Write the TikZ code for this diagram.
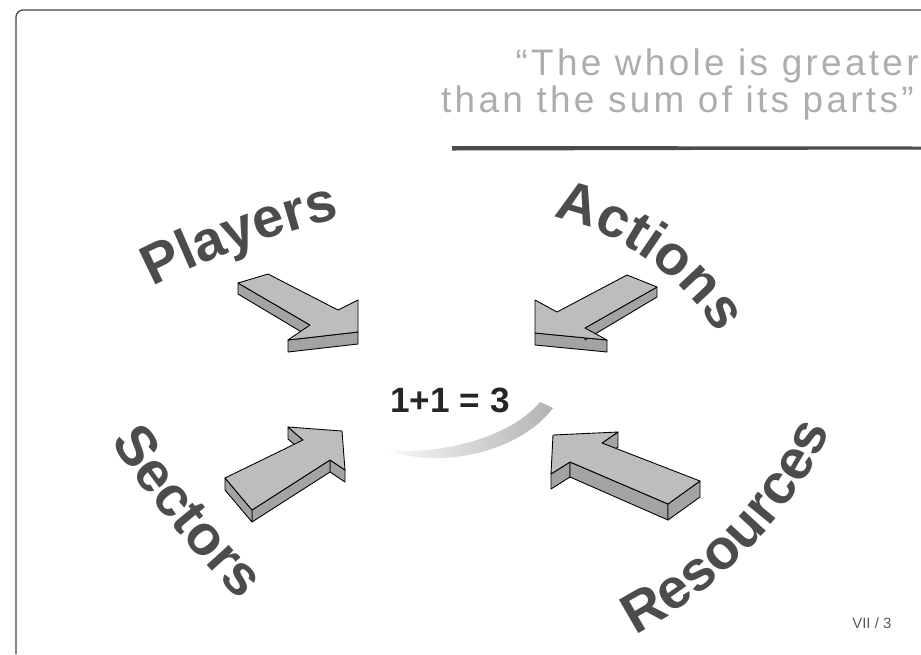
\documentclass[tikz,border=0pt]{standalone}
\usepackage{fontspec}
\setmainfont{Liberation Sans}
\newfontfamily\wordfont{Liberation Sans}
\newfontfamily\quotefont[LetterSpace=9]{Liberation Sans}
\usetikzlibrary{calc,decorations.text,positioning}
\definecolor{wordgray}{gray}{0.3}
\definecolor{quotegray}{gray}{0.68}
\definecolor{arrowtop}{gray}{0.74}
\definecolor{arrowside}{gray}{0.64}

\begin{document}
\begin{tikzpicture}[x=0.02cm, y=-0.02cm,
	top/.style={fill=arrowtop, draw=black, line width=0.5pt, line join=round},
	side/.style={fill=arrowside, draw=black, line width=0.5pt, line join=round},
	word/.style={decorate, decoration={text along path, text align=center,
		text color=wordgray, text={|\wordfont\bfseries\fontsize{32}{32}\selectfont|#1}}},
	quote/.style={anchor=base east, inner sep=0pt, text=quotegray,
		font=\quotefont\fontsize{21}{24}\selectfont}
]
	\useasboundingbox (0,0) rectangle (921,654);

	% Frame
	\draw[black!75, line width=0.7pt, rounded corners=4pt] (921,10) -- (16,10) -- (16,654);

	% Quote and rule
	\node[quote] (quote1) at (919,75) {“The whole is greater};
	\node[quote] (quote2) at (914,112) {than the sum of its parts”};
	\fill[black!70] (452,146) -- (921,146.5) -- (921,149.5) -- (452,150.5) -- cycle;

	% Swoosh under the sum
	\shade[left color=gray!5, right color=gray!60]
		(388,450) .. controls (440,470) and (520,452) .. (553,408)
		-- (540,402) .. controls (510,438) and (440,455) .. (388,450) -- cycle;
	\node[font=\bfseries\fontsize{20}{24}\selectfont, text=black!85] (sum) at (450,400) {1+1 = 3};

	% Players arrow
	\coordinate (p1) at (268,274);
	\coordinate (p2) at (338,310);
	\coordinate (p3) at (358,300);
	\coordinate (p4) at (358,332);
	\coordinate (p5) at (288,340);
	\coordinate (p6) at (310,325);
	\coordinate (p7) at (238,283);
	\draw[side] (p4) -- (p5) -- ($(p5)+(0,12)$) -- ($(p4)+(0,12)$) -- cycle;
	\draw[side] (p6) -- (p7) -- ($(p7)+(0,11)$) -- ($(p6)+(0,12)$) -- cycle;
	\draw[top] (p1) -- (p2) -- (p3) -- (p4) -- (p5) -- (p6) -- (p7) -- cycle;

	% Actions arrow
	\coordinate (a1) at (627,275);
	\coordinate (a2) at (557,312);
	\coordinate (a3) at (535,300);
	\coordinate (a4) at (535,333);
	\coordinate (a5) at (607,340);
	\coordinate (a6) at (585,328);
	\coordinate (a7) at (657,287);
	\draw[side] (a4) -- (a5) -- ($(a5)+(0,12)$) -- ($(a4)+(0,12)$) -- cycle;
	\draw[side] (a6) -- (a7) -- ($(a7)+(0,10)$) -- ($(a6)+(0,12)$) -- cycle;
	\draw[top] (a1) -- (a2) -- (a3) -- (a4) -- (a5) -- (a6) -- (a7) -- cycle;

	% Sectors arrow
	\coordinate (s1) at (225,478);
	\coordinate (s2) at (303,440);
	\coordinate (s3) at (288,427);
	\coordinate (s4) at (342,431);
	\coordinate (s5) at (345,470);
	\coordinate (s6) at (330,460);
	\coordinate (s7) at (252,510);
	\draw[side] (s2) -- (s3) -- ($(s3)+(0,12)$) -- ($(s2)+(0,12)$) -- cycle;
	\draw[side] (s5) -- (s6) -- ($(s6)+(0,12)$) -- ($(s5)+(0,12)$) -- cycle;
	\draw[side] (s6) -- (s7) -- ($(s7)+(0,12)$) -- ($(s6)+(0,12)$) -- cycle;
	\draw[side] (s7) -- (s1) -- ($(s1)+(0,12)$) -- ($(s7)+(0,12)$) -- cycle;
	\draw[top] (s1) -- (s2) -- (s3) -- (s4) -- (s5) -- (s6) -- (s7) -- cycle;

	% Resources arrow
	\coordinate (r1) at (700,481);
	\coordinate (r2) at (602,443);
	\coordinate (r3) at (618,432);
	\coordinate (r4) at (553,435);
	\coordinate (r5) at (551,474);
	\coordinate (r6) at (570,462);
	\coordinate (r7) at (668,504);
	\draw[side] (r2) -- (r3) -- ($(r3)+(0,15)$) -- ($(r2)+(0,15)$) -- cycle;
	\draw[side] (r5) -- (r6) -- ($(r6)+(0,15)$) -- ($(r5)+(0,15)$) -- cycle;
	\draw[side] (r6) -- (r7) -- ($(r7)+(0,16)$) -- ($(r6)+(0,15)$) -- cycle;
	\draw[side] (r7) -- (r1) -- ($(r1)+(0,16)$) -- ($(r7)+(0,16)$) -- cycle;
	\draw[top] (r1) -- (r2) -- (r3) -- (r4) -- (r5) -- (r6) -- (r7) -- cycle;

	% Arched words
	\path[word=Players] (147,290) .. controls (193,264) and (296,225) .. (346,218);
	\path[word=Actions] (558,219) .. controls (612,228) and (688,280) .. (714,330);
	\path[word=Sectors] (104,430) .. controls (138,486) and (203,566) .. (250,610);
	\path[word=Resources] (628,638) .. controls (708,602) and (805,507) .. (832,422);

	% Page number
	\node[anchor=base west, inner sep=0pt, text=black!65, font=\fontsize{8.5}{10}\selectfont] (page) at (852,628) {VII / 3};
\end{tikzpicture}
\end{document}
